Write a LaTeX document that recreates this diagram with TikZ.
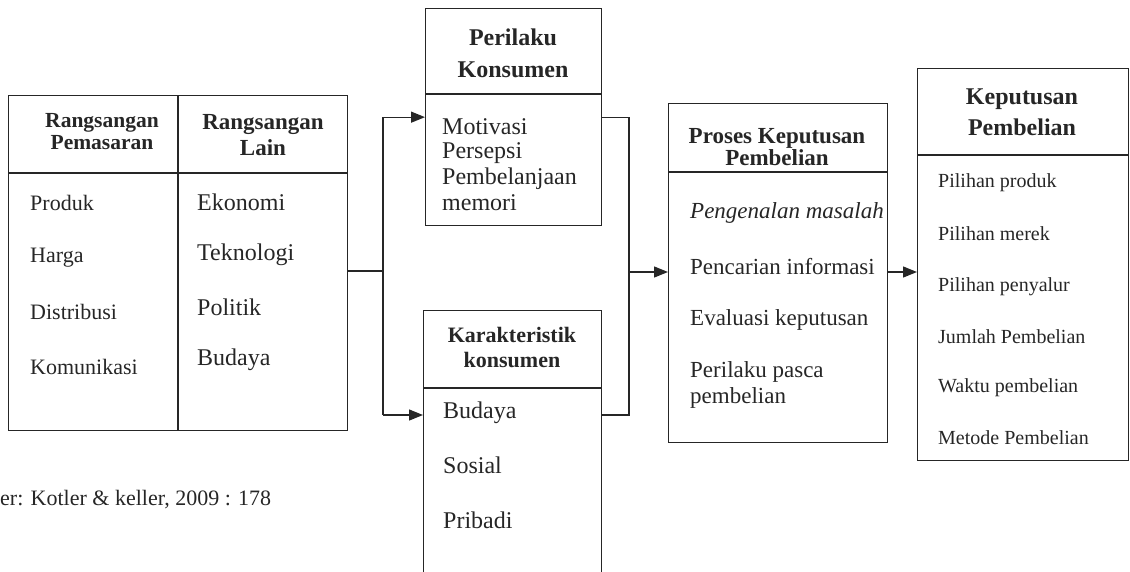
\documentclass[tikz,border=0pt]{standalone}
\usepackage{fontspec}
\setmainfont{Liberation Serif}
\usetikzlibrary{arrows.meta}
\definecolor{ink}{gray}{0.15}
\newcommand{\fs}[2]{\fontsize{#1}{#2}\selectfont}
\tikzset{
  box/.style={draw=ink, line width=1.3pt, inner sep=0pt, anchor=north west},
  item/.style={anchor=west, inner sep=0pt, text=ink},
  head/.style={align=center, inner sep=0pt, text=ink},
  link/.style={draw=ink, line width=1.3pt},
  feed/.style={link, -{Triangle[length=14pt,width=11pt]}},
}
\begin{document}
\begin{tikzpicture}[x=1pt,y=-1pt]
      \useasboundingbox (0,0) rectangle (1130,571);
      \clip (0,0) rectangle (1130,571);
      % boxes
      \node[box, minimum width=339pt, minimum height=335pt] (stimuli) at (8,95) {};
      \node[box, minimum width=176pt, minimum height=217pt] (perilaku) at (425,8) {};
      \node[box, minimum width=178pt, minimum height=300pt] (karakter) at (423,310) {};
      \node[box, minimum width=219pt, minimum height=339pt] (proses) at (668,103) {};
      \node[box, minimum width=211pt, minimum height=392pt] (keputusan) at (917,68) {};
      \draw[link] (8,173) -- (347,173);
      \draw[link] (178,95) -- (178,430);
      \draw[link] (425,94) -- (601,94);
      \draw[link] (423,388) -- (601,388);
      \draw[link] (668,172) -- (887,172);
      \draw[link] (917,155) -- (1128,155);
      % headings
      \draw
        (102,132) node[head, font=\bfseries\fs{21.5}{22}] (h1){Rangsangan\\Pemasaran}
        (263,135) node[head, font=\bfseries\fs{23}{26}] (h2){Rangsangan\\Lain}
        (513,53) node[head, font=\bfseries\fs{24}{32}] (h3){Perilaku\\Konsumen}
        (512,347) node[head, font=\bfseries\fs{22}{25}] (h4){Karakteristik\\konsumen}
        (777,147) node[head, font=\bfseries\fs{23}{22}] (h5){Proses Keputusan\\Pembelian}
        (1022,112) node[head, font=\bfseries\fs{24}{31}] (h6){Keputusan\\Pembelian};
      % items
      \begin{scope}[every node/.style={item, font=\fs{22}{22}}]
        \draw
          (30,203) node (a1){Produk}
          (30,258) node (a2){Harga}
          (30,312) node (a3){Distribusi}
          (30,367) node (a4){Komunikasi};
      \end{scope}
      \begin{scope}[every node/.style={item, font=\fs{24}{24}}]
        \draw
          (197,202) node (b1){Ekonomi}
          (197,255) node (b2){Teknologi}
          (197,307) node (b3){Politik}
          (197,360) node (b4){Budaya}
          (442,127) node (c1){Motivasi}
          (442,153) node (c2){Persepsi}
          (442,179) node (c3){Pembelanjaan}
          (442,203) node (c4){memori}
          (443,413) node (d1){Budaya}
          (443,465) node (d2){Sosial}
          (443,520) node (d3){Pribadi};
      \end{scope}
      \begin{scope}[every node/.style={item, font=\fs{23}{23}}]
        \draw
          (690,213) node (e1){\itshape Pengenalan masalah}
          (690,267) node (e2){Pencarian informasi}
          (690,320) node (e3){Evaluasi keputusan}
          (690,372) node (e4){Perilaku pasca}
          (690,398) node (e5){pembelian};
      \end{scope}
      \begin{scope}[every node/.style={item, font=\fs{20}{20}}]
        \draw
          (938,183) node (f1){Pilihan produk}
          (938,234) node (f2){Pilihan merek}
          (938,287) node (f3){Pilihan penyalur}
          (938,337) node (f4){Jumlah Pembelian}
          (938,388) node (f5){Waktu pembelian}
          (938,438) node (f6){Metode Pembelian};
      \end{scope}
      \node[item, font=\fs{22}{22}] (src) at (0,500) {er: Kotler \& keller, 2009 : 178};
      % connectors
      \coordinate (split) at (383,271);
      \coordinate (kin) at (423,415);
      \coordinate (kout) at (601,415);
      \coordinate (join) at (629,272);
      \draw[link] (stimuli.east |- split) -- (split);
      \draw[link] (split |- perilaku.west) -- (split |- kin);
      \draw[feed] (split |- perilaku.west) -- (perilaku.west);
      \draw[feed] (split |- kin) -- (kin);
      \draw[link] (perilaku.east) -| (join);
      \draw[link] (kout) -| (join);
      \draw[feed] (join) -- (proses.west |- join);
      \draw[feed] (proses.east |- join) -- (keputusan.west |- join);
    \end{tikzpicture}
\end{document}
